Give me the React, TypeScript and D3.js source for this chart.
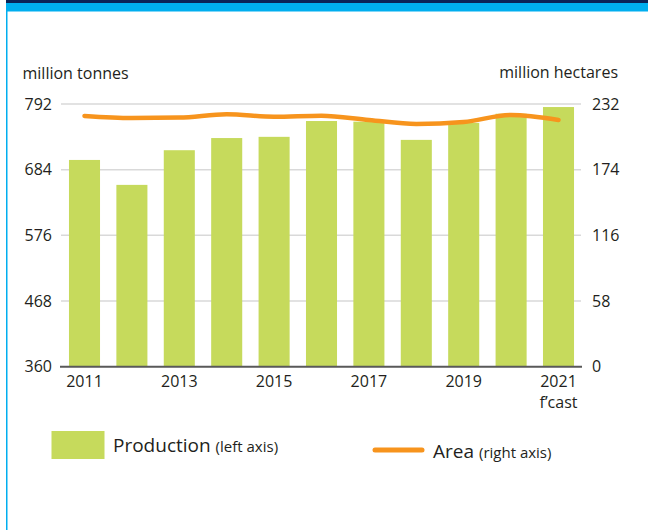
import React from "react";
import * as d3 from "d3";

const years = [2011, 2012, 2013, 2014, 2015, 2016, 2017, 2018, 2019, 2020, 2021];
const production = [700, 659, 716, 736, 738, 764, 763, 733, 761, 776, 787];
const area = [221.4, 219.6, 220.0, 222.9, 220.8, 221.7, 217.9, 214.3, 216.1, 222.3, 217.9];
const leftTicks = [360, 468, 576, 684, 792];
const rightTicks = [0, 58, 116, 174, 232];
const xTickYears = [2011, 2013, 2015, 2017, 2019, 2021];

const W = 648;
const H = 530;
const FONT = "'Open Sans', 'Noto Sans', sans-serif";
const TEXT = "#231F20";
const GREEN = "#C6DA5C";
const ORANGE = "#F7941D";

export default function App() {
  const x = d3
    .scaleBand<number>()
    .domain(years)
    .range([60.8, 582.2])
    .paddingInner(0.345)
    .paddingOuter(0.1725);
  const yL = d3.scaleLinear().domain([360, 792]).range([366.7, 104]);
  const yR = d3.scaleLinear().domain([0, 232]).range([366.7, 104]);
  const cx = (yr: number) => (x(yr) as number) + x.bandwidth() / 2;

  const line = d3
    .line<number>()
    .x((_, i) => cx(years[i]))
    .y((d) => yR(d))
    .curve(d3.curveMonotoneX);

  return (
    <svg
      width={W}
      height={H}
      style={{ position: "absolute", left: 0, top: 0, background: "#fff" }}
      fontFamily={FONT}
    >
      {/* frame */}
      <rect x={6} y={0} width={W - 6} height={3} fill="#0B2357" />
      <rect x={6} y={3} width={W - 6} height={8} fill="#00AEEF" />
      <rect x={6} y={11} width={W - 6} height={1} fill="#7FD6F7" />
      <rect x={6} y={11} width={1.5} height={H - 11} fill="#00AEEF" />

      {/* axis titles */}
      <text x={22.5} y={79} fontSize={16} fill={TEXT}>
        million tonnes
      </text>
      <text x={618} y={78} fontSize={16} fill={TEXT} textAnchor="end">
        million hectares
      </text>

      {/* gridlines */}
      {leftTicks.slice(1).map((t) => (
        <line key={t} x1={61} x2={581} y1={yL(t)} y2={yL(t)} stroke="#D9D9D9" strokeWidth={1.5} />
      ))}

      {/* bars */}
      {production.map((v, i) => (
        <rect
          key={years[i]}
          x={x(years[i])}
          y={yL(v)}
          width={x.bandwidth()}
          height={yL(360) - yL(v)}
          fill={GREEN}
        />
      ))}

      {/* baseline */}
      <line x1={60} x2={582} y1={yL(360)} y2={yL(360)} stroke="#595959" strokeWidth={2} />

      {/* area line */}
      <path
        d={line(area) || ""}
        fill="none"
        stroke={ORANGE}
        strokeWidth={4.5}
        strokeLinecap="round"
        strokeLinejoin="round"
      />

      {/* left tick labels */}
      {leftTicks.map((t) => (
        <text key={t} x={52} y={yL(t)} dy="0.36em" fontSize={16} fill={TEXT} textAnchor="end">
          {t}
        </text>
      ))}
      {/* right tick labels */}
      {rightTicks.map((t) => (
        <text key={t} x={592} y={yR(t)} dy="0.36em" fontSize={16} fill={TEXT}>
          {t}
        </text>
      ))}

      {/* x labels */}
      {xTickYears.map((yr) => (
        <text key={yr} x={cx(yr)} y={387} fontSize={16} fill={TEXT} textAnchor="middle">
          {yr}
        </text>
      ))}
      <text x={cx(2021)} y={408} fontSize={16} fill={TEXT} textAnchor="middle">
        f’cast
      </text>

      {/* legend */}
      <rect x={51.5} y={431} width={53} height={28} fill={GREEN} />
      <text x={113} y={452} fill={TEXT}>
        <tspan fontSize={19}>Production </tspan>
        <tspan fontSize={15}>(left axis)</tspan>
      </text>
      <line x1={375} x2={422} y1={450} y2={450} stroke={ORANGE} strokeWidth={5} strokeLinecap="round" />
      <text x={433} y={458} fill={TEXT}>
        <tspan fontSize={19}>Area </tspan>
        <tspan fontSize={15}>(right axis)</tspan>
      </text>
    </svg>
  );
}
